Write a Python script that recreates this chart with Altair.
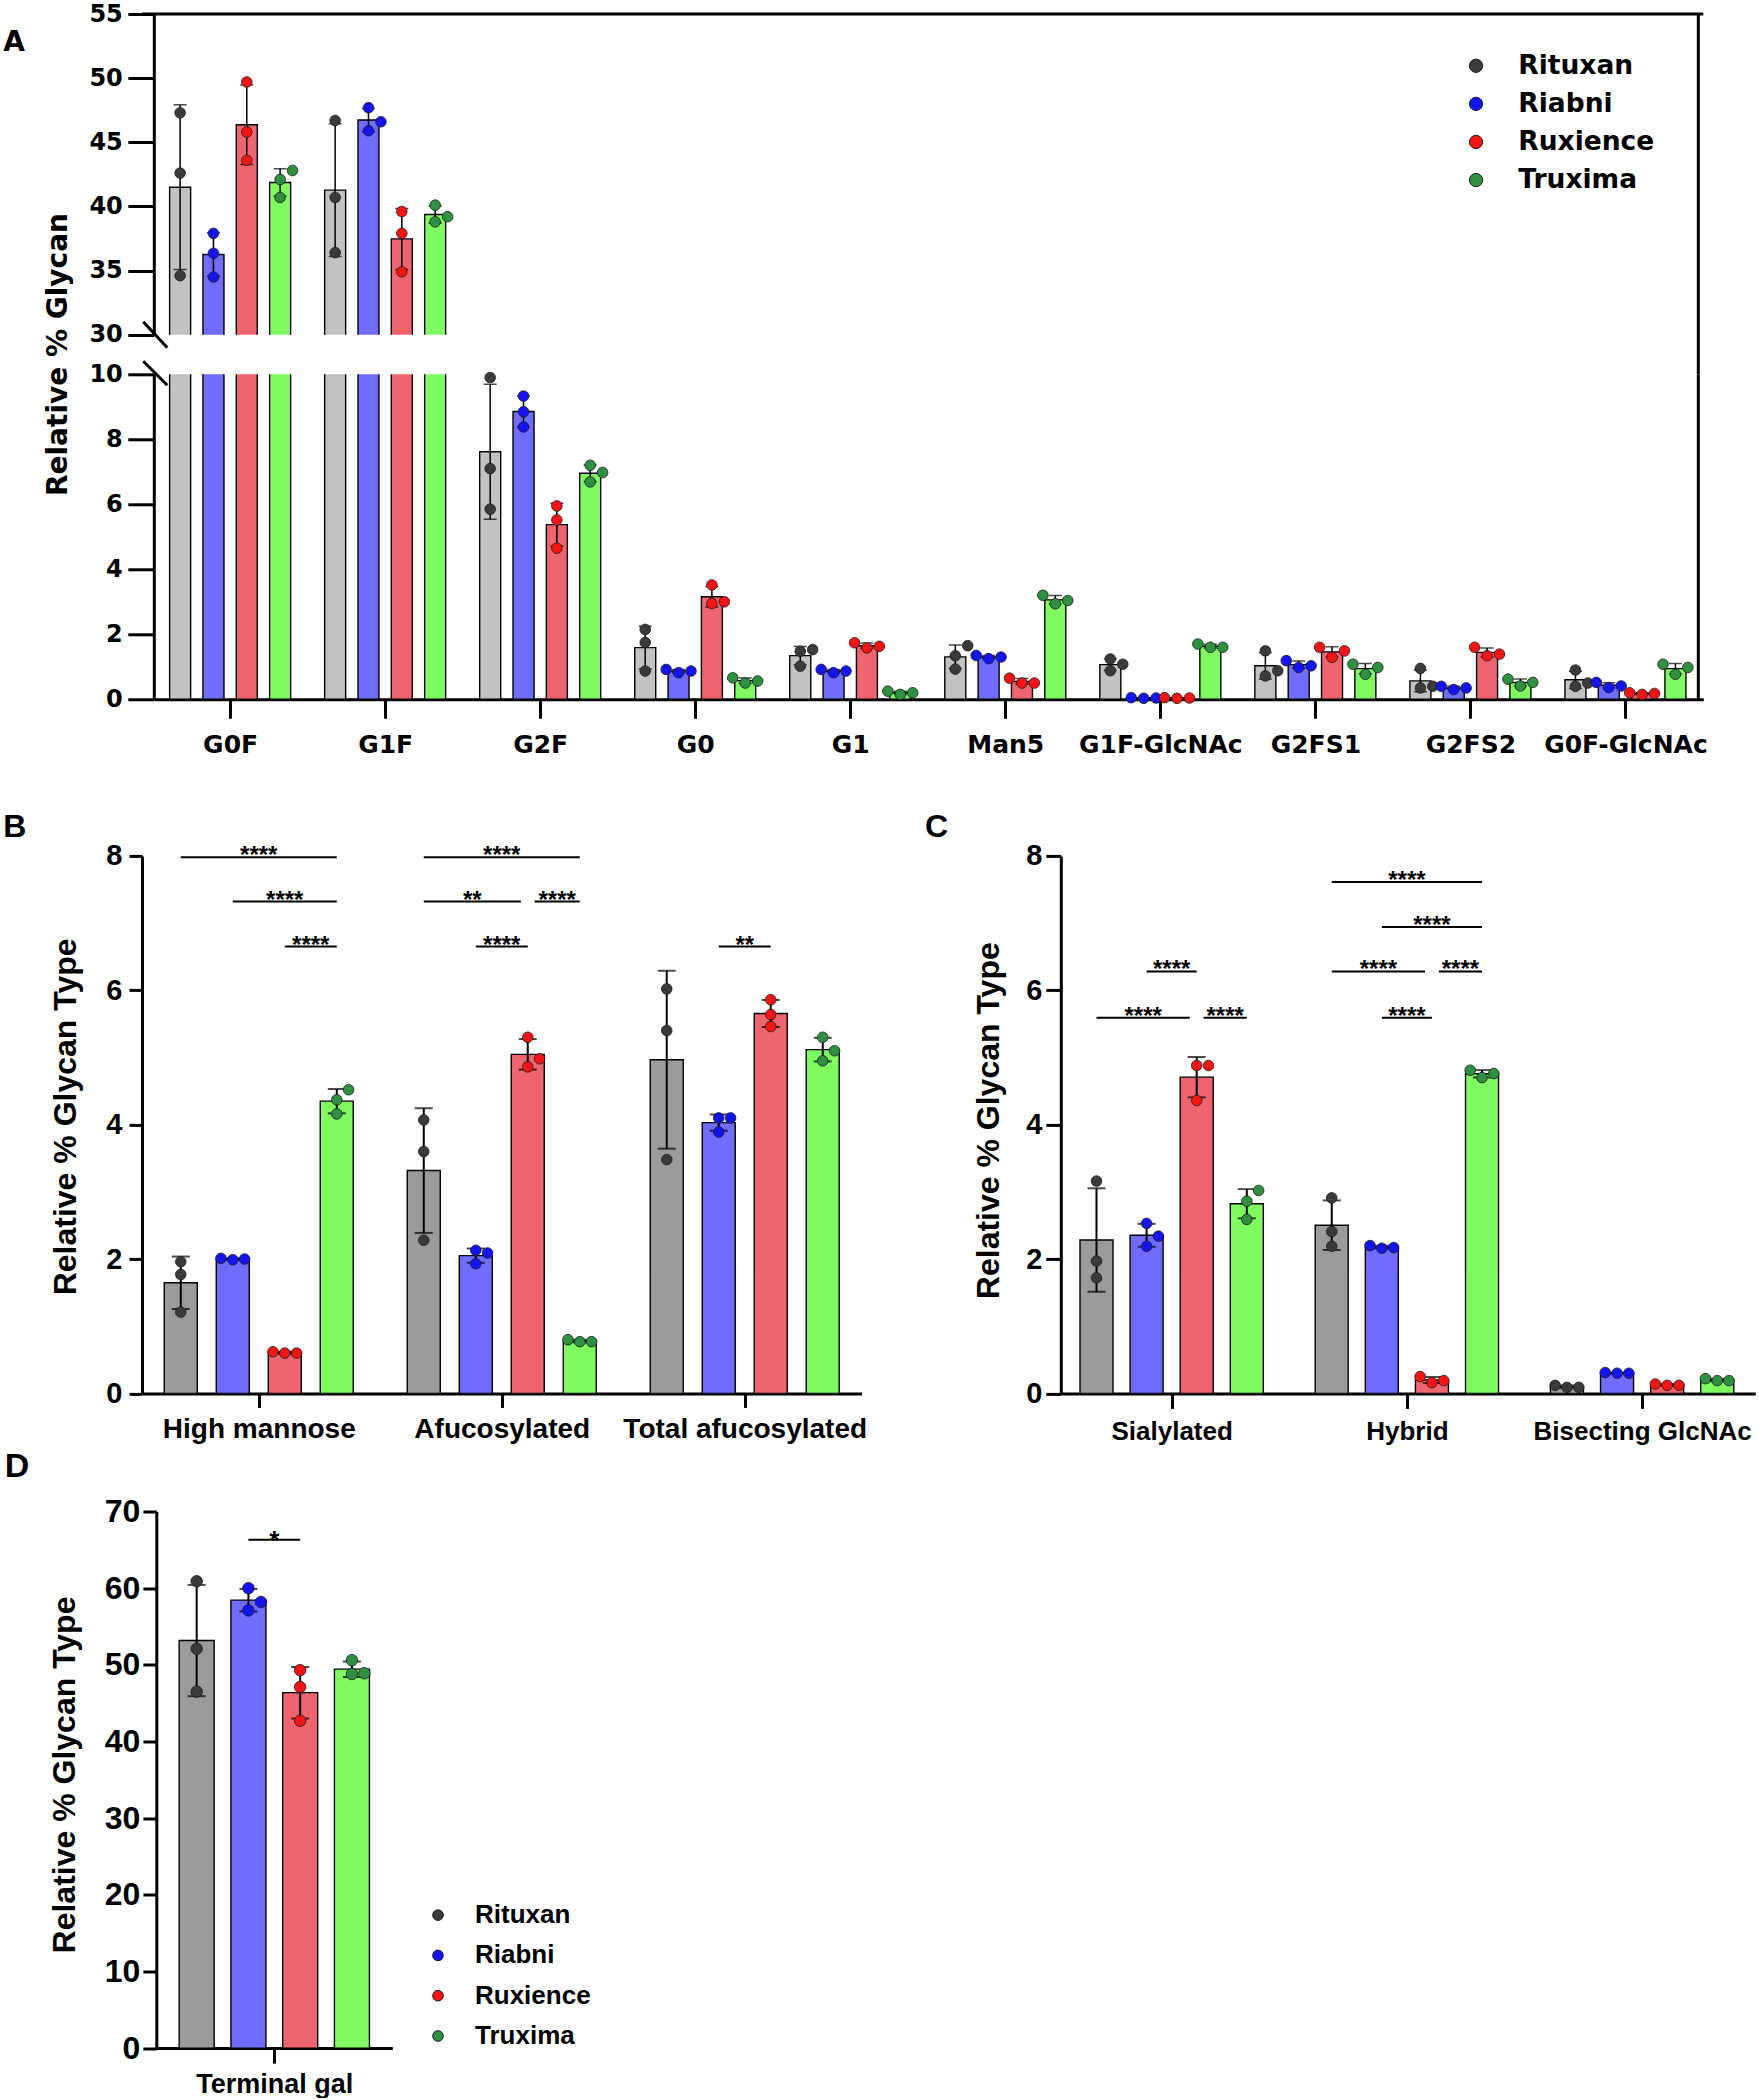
import json
import pandas as pd
import altair as alt

# ---------------- data ----------------
BRANDS = ["Rituxan", "Riabni", "Ruxience", "Truxima"]
DOT_COLORS = ["#3a3a3a", "#1414f0", "#f51515", "#2f9042"]
BAR_COLORS_A = ["#c2c2c2", "#6f6cff", "#ef656d", "#80fb62"]
BAR_COLORS_BCD = ["#9b9b9b", "#6f6cff", "#ef656d", "#80fb62"]

# Panel A: relative % glycan (three replicates per product)
A_CATS = ["G0F", "G1F", "G2F", "G0", "G1", "Man5", "G1F-GlcNAc", "G2FS1", "G2FS2", "G0F-GlcNAc"]
A_RITUXAN = [[47.3, 42.6, 34.6], [46.7, 40.7, 36.4], [9.9, 7.1, 5.85], [2.15, 1.75, 0.87], [1.53, 1.48, 1.02],
             [1.65, 1.34, 0.93], [1.24, 1.08, 0.88], [1.49, 0.88, 0.72], [0.95, 0.4, 0.35], [0.9, 0.5, 0.4]]
A_RIABNI = [[37.9, 36.35, 34.5], [47.7, 46.6, 45.9], [9.33, 8.85, 8.38], [0.92, 0.87, 0.82], [0.92, 0.87, 0.82],
            [1.35, 1.3, 1.25], [0.05, 0.04, 0.03], [1.19, 1.03, 0.98], [0.4, 0.35, 0.3], [0.52, 0.41, 0.36]]
A_RUXIENCE = [[49.7, 45.8, 43.6], [39.6, 37.9, 34.9], [5.95, 5.52, 4.65], [3.52, 3.0, 2.95], [1.74, 1.63, 1.58],
              [0.65, 0.5, 0.5], [0.05, 0.04, 0.03], [1.6, 1.49, 1.29], [1.6, 1.39, 1.34], [0.2, 0.18, 0.15]]
A_TRUXIMA = [[42.8, 42.1, 40.7], [40.1, 39.2, 38.8], [7.2, 6.98, 6.69], [0.66, 0.56, 0.5], [0.25, 0.2, 0.15],
             [3.2, 3.04, 2.94], [1.7, 1.6, 1.6], [1.08, 0.98, 0.77], [0.62, 0.52, 0.41], [1.08, 0.98, 0.77]]

# Panel B
B_CATS = ["High mannose", "Afucosylated", "Total afucosylated"]
B_RITUXAN = [[1.96, 1.77, 1.21], [4.07, 3.6, 2.28], [6.02, 5.4, 3.48]]
B_RIABNI = [[2.0, 2.01, 1.99], [2.13, 2.09, 1.93], [4.1, 4.1, 3.89]]
B_RUXIENCE = [[0.6, 0.62, 0.6], [5.3, 4.98, 4.86], [5.86, 5.64, 5.46]]
B_TRUXIMA = [[4.52, 4.37, 4.16], [0.77, 0.77, 0.8], [5.3, 5.1, 4.95]]
B_BRACKETS = [("High mannose", "Rituxan", "Truxima", 7.98, "****"),
              ("High mannose", "Riabni", "Truxima", 7.32, "****"),
              ("High mannose", "Ruxience", "Truxima", 6.65, "****"),
              ("Afucosylated", "Rituxan", "Truxima", 7.98, "****"),
              ("Afucosylated", "Rituxan", "Ruxience", 7.32, "**"),
              ("Afucosylated", "Ruxience", "Truxima", 7.32, "****"),
              ("Afucosylated", "Riabni", "Ruxience", 6.65, "****"),
              ("Total afucosylated", "Riabni", "Ruxience", 6.65, "**")]

# Panel C
C_CATS = ["Sialylated", "Hybrid", "Bisecting GlcNAc"]
C_RITUXAN = [[3.16, 1.97, 1.72], [2.91, 2.41, 2.19], [0.09, 0.12, 0.09]]
C_RIABNI = [[2.53, 2.34, 2.19], [2.17, 2.2, 2.16], [0.3, 0.31, 0.3]]
C_RUXIENCE = [[4.88, 4.88, 4.36], [0.19, 0.25, 0.16], [0.12, 0.14, 0.12]]
C_TRUXIMA = [[3.02, 2.86, 2.59], [4.7, 4.81, 4.76], [0.19, 0.22, 0.19]]
C_BRACKETS = [("Sialylated", "Rituxan", "Ruxience", 5.59, "****"),
              ("Sialylated", "Ruxience", "Truxima", 5.59, "****"),
              ("Sialylated", "Riabni", "Ruxience", 6.28, "****"),
              ("Hybrid", "Rituxan", "Truxima", 7.61, "****"),
              ("Hybrid", "Riabni", "Truxima", 6.94, "****"),
              ("Hybrid", "Rituxan", "Ruxience", 6.28, "****"),
              ("Hybrid", "Ruxience", "Truxima", 6.28, "****"),
              ("Hybrid", "Riabni", "Ruxience", 5.59, "****")]

# Panel D
D_CATS = ["Terminal gal"]
D_RITUXAN = [[60.9, 52.1, 46.5]]
D_RIABNI = [[60.0, 58.2, 57.1]]
D_RUXIENCE = [[49.3, 47.1, 42.7]]
D_TRUXIMA = [[50.6, 48.9, 48.8]]
D_BRACKETS = [("Terminal gal", "Riabni", "Ruxience", 66.3, "*")]

A_VALUES = dict(zip(BRANDS, [A_RITUXAN, A_RIABNI, A_RUXIENCE, A_TRUXIMA]))
B_VALUES = dict(zip(BRANDS, [B_RITUXAN, B_RIABNI, B_RUXIENCE, B_TRUXIMA]))
C_VALUES = dict(zip(BRANDS, [C_RITUXAN, C_RIABNI, C_RUXIENCE, C_TRUXIMA]))
D_VALUES = dict(zip(BRANDS, [D_RITUXAN, D_RIABNI, D_RUXIENCE, D_TRUXIMA]))

FONT_A = "DejaVu Sans"
FONT = "Liberation Sans"

# ---------------- layout constants (pixels) ----------------
LEFT = 141.7                      # common left edge of all rows
A_OFF, A_W, UP_H, LOW_H, GAP_A = 11.8, 1549.5, 320.7, 325.0, 39.3
A_XDOM = [-0.46, 9.47]
B_W, C_OFF, C_W, BC_H = 719.5, 918.8, 694.5, 537.5
B_XDOM, C_XDOM = [-0.46, 2.46], [-0.45, 2.46]
D_OFF, D_W, D_H = 14.3, 236.0, 536.6
D_XDOM = [-0.5, 0.5]


def swarm(vals, ppu, d):
    order = sorted(range(len(vals)), key=lambda i: vals[i])
    placed, out = [], [0.0] * len(vals)
    for i in order:
        y = vals[i] * ppu(vals[i])
        for o in (0.0, d, -d, 2 * d, -2 * d):
            if all((y - py) ** 2 + (o - px) ** 2 >= (0.92 * d) ** 2 for py, px in placed):
                break
        placed.append((y, o))
        out[i] = o
    return out


def table(cats, values, step, ppu, px_per_x, d):
    rows = []
    for ci, cat in enumerate(cats):
        for bi, brand in enumerate(BRANDS):
            reps = values[brand][ci]
            xpos = ci + (bi - 1.5) * step
            for v, o in zip(reps, swarm(reps, ppu, d)):
                rows.append({"cat": cat, "brand": brand, "xpos": xpos,
                             "xj": xpos + o / px_per_x, "val": v})
    return pd.DataFrame(rows)


def bracket_table(cats, brackets, step, gap):
    rows = []
    for k, (cat, b1, b2, lvl, lab) in enumerate(brackets):
        ci = cats.index(cat)
        x1 = ci + (BRANDS.index(b1) - 1.5) * step
        x2 = ci + (BRANDS.index(b2) - 1.5) * step
        for j, (c2, o1, o2, l2, _) in enumerate(brackets):
            if j != k and c2 == cat and l2 == lvl:
                if o1 == b2:
                    x2 -= gap
                if o2 == b1:
                    x1 += gap
        rows.append({"x1": x1, "x2": x2, "xm": (x1 + x2) / 2, "lvl": lvl, "label": lab})
    return pd.DataFrame(rows)


def data_layers(df, xs, ys, xaxis, yaxis, ytitle, bar_px, cap_px, dot_size, bar_colors,
                legend, lw, pt_filter=None):
    def X(f):
        return alt.X(f"{f}:Q", scale=xs, axis=xaxis, title=None)

    def Y(f, agg=None):
        kw = dict(scale=ys, axis=yaxis, title=ytitle)
        if agg:
            kw["aggregate"] = agg
        return alt.Y(f"{f}:Q", **kw)

    bars = alt.Chart(df).mark_bar(size=bar_px, stroke="black", strokeWidth=1.4, clip=True).encode(
        x=X("xpos"), y=Y("val", "mean"),
        color=alt.Color("brand:N", sort=BRANDS, scale=alt.Scale(range=bar_colors), legend=None))
    stats = alt.Chart(df).transform_aggregate(
        m="mean(val)", sd="stdev(val)", groupby=["xpos", "brand"]
    ).transform_calculate(lo="datum.m - datum.sd", hi="datum.m + datum.sd")
    err = stats.mark_rule(color="black", strokeWidth=lw, clip=True).encode(
        x=X("xpos"), y=Y("lo"), y2="hi:Q")
    caps = stats.transform_fold(["lo", "hi"], as_=["end", "yv"]).mark_tick(
        orient="horizontal", size=cap_px, thickness=lw, color="black", clip=True
    ).encode(x=X("xpos"), y=Y("yv"))
    pts_base = alt.Chart(df)
    if pt_filter:
        pts_base = pts_base.transform_filter(pt_filter)
    pts = pts_base.mark_circle(size=dot_size, opacity=1, stroke="#1c1c1c", strokeWidth=0.8).encode(
        x=X("xj"), y=Y("val"),
        fill=alt.Fill("brand:N", scale=alt.Scale(domain=BRANDS, range=DOT_COLORS), legend=legend))
    return [bars, err, caps, pts], X, Y


def bracket_layers(bdf, X, Y, font, fs, lw, dy):
    rule = alt.Chart(bdf).mark_rule(color="black", strokeWidth=lw).encode(
        x=X("x1"), x2="x2:Q", y=Y("lvl"))
    txt = alt.Chart(bdf).mark_text(font=font, fontSize=fs, fontWeight="bold", baseline="alphabetic",
                                   dy=dy, color="black").encode(x=X("xm"), y=Y("lvl"), text="label:N")
    return [rule, txt]


one = pd.DataFrame({"k": [0]})


def letter(txt, x, y, font, size):
    return alt.Chart(pd.DataFrame({"t": [txt]})).mark_text(
        align="left", baseline="middle", font=font, fontSize=size, fontWeight="bold", color="black"
    ).encode(text="t:N", x=alt.value(x), y=alt.value(y))


def spacer(h):
    return alt.Chart(one).mark_point(opacity=0, size=1).properties(width=1, height=h)


def yax(values, font, fs, ticklen, pad, offset=0, **title_kw):
    return alt.Axis(values=values, orient="left", offset=offset, labelFont=font, labelFontSize=fs,
                    labelFontWeight="bold", labelColor="black", labelPadding=pad, tickSize=ticklen,
                    tickWidth=3, tickColor="black", domainWidth=3, domainColor="black", grid=False,
                    labelOverlap=False, **title_kw)


def xax(cats, font, fs, ticklen, pad):
    return alt.Axis(values=list(range(len(cats))), orient="bottom",
                    labelExpr=f"{json.dumps(cats)}[datum.value]",
                    labelFont=font, labelFontSize=fs, labelFontWeight="bold", labelColor="black",
                    labelPadding=pad, tickSize=ticklen, tickWidth=3, tickColor="black",
                    domainWidth=3, domainColor="black", grid=False, labelOverlap=False,
                    labelFlush=False, labelLimit=600)


def ytitle_kw(font, fs, tx, ty):
    return dict(titleFont=font, titleFontSize=fs, titleFontWeight="bold", titleColor="black",
                titleAngle=270, titleAlign="center", titleBaseline="middle", titleX=tx, titleY=ty)


# ---------------- Panel A ----------------
A_STEP = 0.215
A_PXX = A_W / (A_XDOM[1] - A_XDOM[0])
dfA = table(A_CATS, A_VALUES, A_STEP, lambda v: UP_H / 25 if v >= 20 else LOW_H / 10, A_PXX, 12.5)
xsA = alt.Scale(domain=A_XDOM, range=[A_OFF, A_OFF + A_W], nice=False, zero=False)

legA = alt.Legend(orient="none", legendX=1475 - 7.5 - LEFT - 5, legendY=38.5, title=None, padding=0,
                  labelFont=FONT_A, labelFontSize=26.5, labelFontWeight="bold", labelColor="black",
                  labelLimit=400, symbolType="circle", symbolSize=177, symbolStrokeColor="#1c1c1c",
                  symbolStrokeWidth=1, symbolOpacity=1, labelOffset=29, rowPadding=11.1)

ysAu = alt.Scale(domain=[30, 55], nice=False, zero=False)
up_layers, XAu, YAu = data_layers(
    dfA, xsA, ysAu, None, yax([30, 35, 40, 45, 50, 55], FONT_A, 24, 26, 5.5, offset=-A_OFF), None,
    21, 13, 113, BAR_COLORS_A, legA, 1.5, pt_filter="datum.val >= 25")
frame_top = alt.Chart(one).mark_rule(color="black", strokeWidth=3).encode(y=alt.datum(55))
frame_right_up = alt.Chart(one).mark_rule(color="black", strokeWidth=3).encode(
    x=alt.datum(A_XDOM[1]), y=alt.value(0), y2=alt.value(UP_H + GAP_A))
break_up = alt.Chart(one).mark_rule(color="black", strokeWidth=3).encode(
    x=alt.value(A_OFF - 10.5), x2=alt.value(A_OFF + 13.5), y=alt.value(UP_H - 13), y2=alt.value(UP_H + 13))
anchor = alt.Chart(one).mark_rule(opacity=0, strokeWidth=0.01).encode(
    x=alt.value(-LEFT), x2=alt.value(-LEFT + 1), y=alt.value(-13.3), y2=alt.value(-12.3))
A_up = alt.layer(*up_layers, frame_top, frame_right_up, break_up, anchor,
                 letter("A", 3 - LEFT, 29.2, FONT_A, 28)).properties(width=A_OFF + A_W, height=UP_H)

ysAl = alt.Scale(domain=[0, 10], nice=False, zero=False)
low_layers, XAl, YAl = data_layers(
    dfA, xsA, ysAl, xax(A_CATS, FONT_A, 25, 19, 14),
    yax([0, 2, 4, 6, 8, 10], FONT_A, 24, 26, 5.5, offset=-A_OFF, **ytitle_kw(FONT_A, 28, -95.5, -20.3)),
    "Relative % Glycan", 21, 13, 113, BAR_COLORS_A, None, 1.5, pt_filter="datum.val <= 10.5")
frame_right_low = alt.Chart(one).mark_rule(color="black", strokeWidth=3).encode(x=alt.datum(A_XDOM[1]))
break_low = alt.Chart(one).mark_rule(color="black", strokeWidth=3).encode(
    x=alt.value(A_OFF - 10.5), x2=alt.value(A_OFF + 13.5), y=alt.value(-13), y2=alt.value(11))
A_low = alt.layer(*low_layers, frame_right_low, break_low).properties(width=A_OFF + A_W, height=LOW_H)

# ---------------- Panel B ----------------
B_STEP = 0.214
B_PXX = B_W / (B_XDOM[1] - B_XDOM[0])
dfB = table(B_CATS, B_VALUES, B_STEP, lambda v: BC_H / 8, B_PXX, 12)
bB = bracket_table(B_CATS, B_BRACKETS, B_STEP, 7 / B_PXX)
xsB = alt.Scale(domain=B_XDOM, range=[0, B_W], nice=False, zero=False)
ysB = alt.Scale(domain=[0, 8], nice=False, zero=False)
B_layers, XB, YB = data_layers(
    dfB, xsB, ysB, xax(B_CATS, FONT, 28, 14, 8),
    yax([0, 2, 4, 6, 8], FONT, 29, 13, 7, **ytitle_kw(FONT, 32, -76.7, 260.5)),
    "Relative % Glycan Type", 33, 18, 113, BAR_COLORS_BCD, None, 2)
B_grp = alt.layer(*B_layers, *bracket_layers(bB, XB, YB, FONT, 24, 2, 6))

# ---------------- Panel C ----------------
C_STEP = 0.213
C_PXX = C_W / (C_XDOM[1] - C_XDOM[0])
dfC = table(C_CATS, C_VALUES, C_STEP, lambda v: BC_H / 8, C_PXX, 12)
bC = bracket_table(C_CATS, C_BRACKETS, C_STEP, 7 / C_PXX)
xsC = alt.Scale(domain=C_XDOM, range=[C_OFF, C_OFF + C_W], nice=False, zero=False)
ysC = alt.Scale(domain=[0, 8], nice=False, zero=False)
C_layers, XC, YC = data_layers(
    dfC, xsC, ysC, xax(C_CATS, FONT, 26, 15, 10),
    yax([0, 2, 4, 6, 8], FONT, 29, 15, 4, offset=-C_OFF, **ytitle_kw(FONT, 32, -72.5, 264.3)),
    "Relative % Glycan Type", 33, 18, 113, BAR_COLORS_BCD, None, 2)
C_grp = alt.layer(*C_layers, *bracket_layers(bC, XC, YC, FONT, 24, 2, 6))

BC = alt.layer(B_grp, C_grp,
               letter("B", 3 - LEFT, -28.5, FONT, 32),
               letter("C", 924.6 - LEFT, -28.5, FONT, 32)).resolve_scale(
    x="independent", y="independent").properties(width=C_OFF + C_W, height=BC_H)

# ---------------- Panel D ----------------
D_STEP = 0.229
D_PXX = D_W / (D_XDOM[1] - D_XDOM[0])
dfD = table(D_CATS, D_VALUES, D_STEP, lambda v: D_H / 70, D_PXX, 13)
bD = bracket_table(D_CATS, D_BRACKETS, D_STEP, 0)
xsD = alt.Scale(domain=D_XDOM, range=[D_OFF, D_OFF + D_W], nice=False, zero=False)
ysD = alt.Scale(domain=[0, 70], nice=False, zero=False)
legD = alt.Legend(orient="none", legendX=436.7 - 6 - LEFT - 6, legendY=390.6, title=None, padding=0,
                  labelFont=FONT, labelFontSize=26, labelFontWeight="bold", labelColor="black",
                  labelLimit=400, symbolType="circle", symbolSize=113, symbolStrokeColor="#1c1c1c",
                  symbolStrokeWidth=1, symbolOpacity=1, labelOffset=24, rowPadding=14.3)
D_layers, XD, YD = data_layers(
    dfD, xsD, ysD, xax(D_CATS, FONT, 27, 15, 8),
    yax([0, 10, 20, 30, 40, 50, 60, 70], FONT, 32, 13.4, 3, offset=-D_OFF,
        **ytitle_kw(FONT, 32, -92, 263)),
    "Relative % Glycan Type", 35, 18, 133, BAR_COLORS_BCD, legD, 2)
D = alt.layer(*D_layers, *bracket_layers(bD, XD, YD, FONT, 26, 2, 9),
              letter("D", 4.5 - LEFT, -44.4, FONT, 34)).properties(width=D_OFF + D_W, height=D_H)

# ---------------- assemble ----------------
chart = alt.vconcat(
    A_up, A_low, spacer(77.6), BC, spacer(38.8), D,
    spacing=GAP_A, bounds="flush"
).resolve_scale(
    x="independent", y="independent", color="independent", fill="independent"
).resolve_legend(color="independent", fill="independent").properties(
    padding=0, background="white"
).configure_view(stroke=None)

chart.save("out.html", embed_options={"renderer": "svg", "actions": False})
